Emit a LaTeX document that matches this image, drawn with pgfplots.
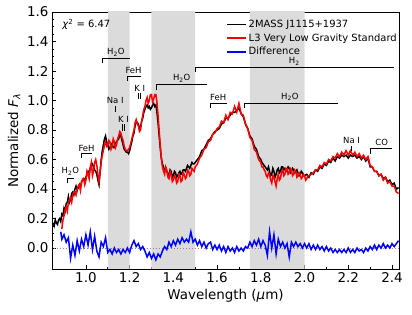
\documentclass[border=0pt]{standalone}
\usepackage{fontspec}
\setmainfont{DejaVu Sans}
\usepackage{pgfplots}
\pgfplotsset{compat=1.18}
\definecolor{shade}{gray}{0.86}
\definecolor{zl}{rgb}{0.62,0.48,0.66}
\newcommand{\annf}{\fontsize{8.5}{10}\selectfont}
\newcommand{\bigf}{\fontsize{13.5}{16}\selectfont}
\begin{document}
\begin{tikzpicture}
\path[use as bounding box] (-52bp,-46bp) rectangle (360bp,269bp);
\begin{axis}[at={(0,0)}, anchor=south west, scale only axis,
  width=347bp, height=257bp,
  xmin=0.845, xmax=2.432, ymin=-0.142, ymax=1.6,
  xtick={1.0,1.2,1.4,1.6,1.8,2.0,2.2,2.4},
  ytick={0,0.2,0.4,0.6,0.8,1.0,1.2,1.4,1.6},
  minor x tick num=1, minor y tick num=3,
  tick align=inside, xtick pos=bottom, ytick pos=left,
  major tick length=4bp, minor tick length=2.3bp,
  tick style={black, line width=0.7bp},
  axis line style={line width=0.8bp},
  tick label style={font=\bigf},
  /pgf/number format/assume math mode=true,
  xticklabel style={/pgf/number format/.cd,fixed,fixed zerofill,precision=1},
  yticklabel style={/pgf/number format/.cd,fixed,fixed zerofill,precision=1},
  label style={font=\bigf},
  xlabel={Wavelength (\textit{μ}m)},
  ylabel={Normalized \textit{F}\textsubscript{\textit{λ}}},
  legend style={draw=none, fill=none, at={(0.503,0.978)}, anchor=north west,
    font=\fontsize{10}{12}\selectfont, inner sep=0pt, row sep=0.8bp,
    nodes={inner sep=1.5bp, text height=8bp, text depth=2bp}},
  legend cell align=left,
  legend image code/.code={\draw[#1] (0bp,0bp) -- (19bp,0bp);},
]
\addplot[draw=none, fill=shade, forget plot] coordinates {(1.1,-1) (1.2,-1) (1.2,2) (1.1,2) (1.1,-1)};
\addplot[draw=none, fill=shade, forget plot] coordinates {(1.3,-1) (1.5,-1) (1.5,2) (1.3,2) (1.3,-1)};
\addplot[draw=none, fill=shade, forget plot] coordinates {(1.75,-1) (2.0,-1) (2.0,2) (1.75,2) (1.75,-1)};
\addplot[zl, dotted, line width=1bp, forget plot] coordinates {(0.8,0) (2.5,0)};
\addplot[black, line width=1.5bp] table {
x y
0.850 0.17
0.855 0.15
0.860 0.19
0.865 0.17
0.870 0.16
0.875 0.19
0.880 0.20
0.885 0.18
0.890 0.23
0.895 0.22
0.900 0.27
0.905 0.25
0.910 0.30
0.915 0.31
0.920 0.35
0.925 0.31
0.930 0.33
0.935 0.37
0.940 0.38
0.945 0.36
0.950 0.40
0.955 0.42
0.960 0.39
0.965 0.41
0.970 0.43
0.975 0.41
0.980 0.45
0.985 0.46
0.990 0.47
0.995 0.45
1.000 0.48
1.005 0.50
1.010 0.52
1.015 0.51
1.020 0.54
1.025 0.56
1.030 0.57
1.035 0.55
1.040 0.53
1.045 0.52
1.050 0.50
1.055 0.46
1.060 0.43
1.065 0.52
1.070 0.60
1.075 0.66
1.080 0.70
1.085 0.74
1.090 0.76
1.095 0.72
1.100 0.70
1.105 0.67
1.110 0.68
1.115 0.70
1.120 0.71
1.125 0.68
1.130 0.68
1.135 0.71
1.140 0.72
1.145 0.73
1.150 0.74
1.155 0.77
1.160 0.76
1.165 0.73
1.170 0.70
1.175 0.67
1.180 0.66
1.185 0.65
1.190 0.65
1.195 0.64
1.200 0.66
1.205 0.69
1.210 0.72
1.215 0.76
1.220 0.78
1.225 0.83
1.230 0.86
1.235 0.85
1.240 0.84
1.245 0.81
1.250 0.82
1.255 0.86
1.260 0.88
1.265 0.92
1.270 0.94
1.275 0.96
1.280 0.97
1.285 0.95
1.290 0.96
1.295 0.94
1.300 0.95
1.305 0.97
1.310 0.98
1.315 0.96
1.320 0.97
1.325 0.92
1.330 0.85
1.335 0.76
1.340 0.68
1.345 0.61
1.350 0.57
1.355 0.55
1.360 0.53
1.365 0.54
1.370 0.52
1.375 0.50
1.380 0.50
1.385 0.53
1.390 0.52
1.395 0.48
1.400 0.49
1.405 0.52
1.410 0.51
1.415 0.48
1.420 0.49
1.425 0.51
1.430 0.52
1.435 0.50
1.440 0.51
1.445 0.53
1.450 0.53
1.455 0.52
1.460 0.54
1.465 0.56
1.470 0.55
1.475 0.54
1.480 0.56
1.485 0.58
1.490 0.57
1.495 0.57
1.500 0.58
1.51 0.60
1.52 0.62
1.53 0.66
1.54 0.67
1.55 0.70
1.56 0.73
1.57 0.74
1.58 0.77
1.59 0.79
1.60 0.80
1.61 0.81
1.62 0.84
1.63 0.85
1.64 0.88
1.65 0.88
1.66 0.90
1.67 0.92
1.68 0.92
1.69 0.93
1.70 0.95
1.71 0.91
1.72 0.89
1.73 0.84
1.74 0.81
1.75 0.76
1.76 0.74
1.77 0.69
1.78 0.67
1.79 0.62
1.800 0.60
1.805 0.58
1.810 0.57
1.815 0.56
1.820 0.55
1.825 0.54
1.830 0.53
1.835 0.55
1.840 0.52
1.845 0.49
1.850 0.50
1.855 0.54
1.860 0.52
1.865 0.48
1.870 0.50
1.875 0.53
1.880 0.54
1.885 0.51
1.890 0.52
1.895 0.55
1.900 0.55
1.905 0.53
1.910 0.54
1.915 0.52
1.920 0.53
1.925 0.55
1.930 0.54
1.935 0.51
1.940 0.52
1.945 0.54
1.950 0.53
1.955 0.51
1.960 0.52
1.965 0.53
1.970 0.51
1.975 0.49
1.980 0.50
1.985 0.52
1.990 0.51
1.995 0.49
2.000 0.49
2.01 0.50
2.02 0.48
2.03 0.51
2.04 0.50
2.05 0.53
2.06 0.52
2.07 0.55
2.08 0.54
2.09 0.57
2.10 0.56
2.11 0.59
2.12 0.58
2.13 0.61
2.14 0.59
2.15 0.62
2.16 0.61
2.17 0.63
2.18 0.62
2.19 0.63
2.20 0.61
2.21 0.63
2.22 0.62
2.23 0.63
2.24 0.61
2.25 0.62
2.26 0.60
2.27 0.62
2.28 0.59
2.29 0.61
2.30 0.55
2.31 0.55
2.32 0.52
2.33 0.52
2.34 0.49
2.35 0.50
2.36 0.47
2.37 0.48
2.38 0.45
2.39 0.46
2.40 0.43
2.41 0.44
2.42 0.40
2.43 0.41
};
\addlegendentry{2MASS J1115+1937}
\addplot[red, line width=1.5bp] table {
x y
0.890 0.13
0.895 0.19
0.900 0.22
0.905 0.26
0.910 0.28
0.915 0.25
0.920 0.31
0.925 0.33
0.930 0.34
0.935 0.31
0.940 0.36
0.945 0.38
0.950 0.38
0.955 0.36
0.960 0.40
0.965 0.42
0.970 0.43
0.975 0.39
0.980 0.44
0.985 0.47
0.990 0.47
0.995 0.43
1.000 0.46
1.005 0.52
1.010 0.50
1.015 0.47
1.020 0.55
1.025 0.58
1.030 0.49
1.035 0.52
1.040 0.58
1.045 0.60
1.050 0.56
1.055 0.50
1.060 0.45
1.065 0.51
1.070 0.58
1.075 0.63
1.080 0.66
1.085 0.70
1.090 0.72
1.095 0.69
1.100 0.70
1.105 0.73
1.110 0.72
1.115 0.67
1.120 0.69
1.125 0.74
1.130 0.72
1.135 0.68
1.140 0.70
1.145 0.74
1.150 0.76
1.155 0.79
1.160 0.78
1.165 0.75
1.170 0.73
1.175 0.69
1.180 0.67
1.185 0.66
1.190 0.66
1.195 0.67
1.200 0.68
1.205 0.71
1.210 0.74
1.215 0.77
1.220 0.80
1.225 0.85
1.230 0.87
1.235 0.84
1.240 0.83
1.245 0.79
1.250 0.80
1.255 0.86
1.260 0.90
1.265 0.94
1.270 0.96
1.275 1.00
1.280 1.02
1.285 0.98
1.290 1.00
1.295 1.04
1.300 1.04
1.305 0.99
1.310 1.01
1.315 1.04
1.320 1.04
1.325 0.99
1.330 0.90
1.335 0.80
1.340 0.70
1.345 0.61
1.350 0.55
1.355 0.52
1.360 0.50
1.365 0.55
1.370 0.53
1.375 0.48
1.380 0.47
1.385 0.52
1.390 0.50
1.395 0.45
1.400 0.46
1.405 0.49
1.410 0.48
1.415 0.44
1.420 0.45
1.425 0.50
1.430 0.49
1.435 0.45
1.440 0.46
1.445 0.51
1.450 0.50
1.455 0.47
1.460 0.48
1.465 0.53
1.470 0.52
1.475 0.49
1.480 0.50
1.485 0.54
1.490 0.53
1.495 0.52
1.500 0.55
1.51 0.57
1.52 0.61
1.53 0.63
1.54 0.67
1.55 0.68
1.56 0.72
1.57 0.73
1.58 0.77
1.59 0.78
1.60 0.81
1.61 0.82
1.62 0.86
1.63 0.85
1.64 0.90
1.65 0.87
1.66 0.92
1.67 0.91
1.68 0.96
1.69 0.92
1.70 0.98
1.71 0.91
1.72 0.90
1.73 0.84
1.74 0.81
1.75 0.75
1.76 0.73
1.77 0.67
1.78 0.65
1.79 0.60
1.800 0.58
1.805 0.55
1.810 0.55
1.815 0.53
1.820 0.52
1.825 0.49
1.830 0.48
1.835 0.51
1.840 0.50
1.845 0.46
1.850 0.44
1.855 0.49
1.860 0.48
1.865 0.45
1.870 0.42
1.875 0.47
1.880 0.50
1.885 0.46
1.890 0.47
1.895 0.52
1.900 0.53
1.905 0.49
1.910 0.50
1.915 0.54
1.920 0.54
1.925 0.50
1.930 0.51
1.935 0.54
1.940 0.53
1.945 0.49
1.950 0.50
1.955 0.53
1.960 0.52
1.965 0.48
1.970 0.49
1.975 0.51
1.980 0.50
1.985 0.47
1.990 0.48
1.995 0.50
2.000 0.49
2.005 0.46
2.010 0.47
2.015 0.49
2.020 0.49
2.03 0.50
2.04 0.51
2.05 0.53
2.06 0.53
2.07 0.56
2.08 0.55
2.09 0.58
2.10 0.57
2.11 0.60
2.12 0.59
2.13 0.62
2.14 0.61
2.15 0.64
2.16 0.62
2.17 0.65
2.18 0.63
2.19 0.66
2.20 0.63
2.21 0.66
2.22 0.63
2.23 0.65
2.24 0.62
2.25 0.64
2.26 0.61
2.27 0.63
2.28 0.60
2.29 0.62
2.30 0.56
2.31 0.55
2.32 0.52
2.33 0.52
2.34 0.49
2.35 0.50
2.36 0.46
2.37 0.48
2.38 0.44
2.39 0.45
2.40 0.42
2.41 0.42
2.42 0.38
2.43 0.37
};
\addlegendentry{L3 Very Low Gravity Standard}
\addplot[blue, line width=1.5bp] table {
x y
0.885 0.11
0.89 0.06
0.90 0.09
0.91 0.04
0.92 0.07
0.93 -0.07
0.94 0.02
0.95 -0.05
0.96 0.05
0.97 -0.02
0.98 0.06
0.99 0.01
1.00 0.09
1.01 0.02
1.02 0.11
1.03 -0.01
1.04 0.08
1.05 -0.02
1.06 -0.06
1.07 0.04
1.08 0.01
1.09 0.07
1.10 -0.03
1.11 -0.01
1.12 -0.04
1.13 0.00
1.14 -0.03
1.15 -0.01
1.16 -0.04
1.17 -0.01
1.18 -0.03
1.19 0.00
1.20 -0.03
1.21 0.02
1.22 0.05
1.23 0.01
1.24 0.03
1.25 -0.01
1.26 0.01
1.27 -0.02
1.28 -0.06
1.29 -0.03
1.30 -0.07
1.31 -0.04
1.32 -0.08
1.33 -0.04
1.34 -0.06
1.35 -0.02
1.36 0.01
1.37 -0.01
1.38 0.04
1.39 0.01
1.40 0.05
1.41 0.02
1.42 0.06
1.43 0.03
1.44 0.07
1.45 0.04
1.46 0.06
1.47 0.04
1.48 0.11
1.49 0.04
1.50 0.06
1.51 0.02
1.52 0.05
1.53 0.01
1.54 0.04
1.55 0.00
1.56 0.03
1.57 0.04
1.58 -0.01
1.59 0.02
1.60 -0.01
1.61 0.02
1.62 -0.02
1.63 0.01
1.64 -0.03
1.65 0.01
1.66 -0.02
1.67 0.00
1.68 -0.03
1.69 0.01
1.70 -0.02
1.71 0.00
1.72 -0.02
1.73 0.01
1.74 0.00
1.75 0.04
1.76 0.01
1.77 0.05
1.78 0.02
1.79 0.06
1.80 0.01
1.81 0.05
1.82 0.02
1.83 -0.05
1.84 0.11
1.85 0.00
1.86 0.09
1.87 -0.04
1.88 0.06
1.89 0.01
1.90 0.04
1.91 0.00
1.92 0.03
1.93 -0.06
1.94 0.04
1.95 0.01
1.96 0.04
1.97 0.01
1.98 0.03
1.99 0.00
2.00 0.03
2.01 0.00
2.02 0.03
2.03 -0.01
2.04 0.02
2.05 -0.01
2.06 0.02
2.07 -0.01
2.08 0.01
2.09 -0.02
2.10 0.01
2.11 -0.02
2.12 0.00
2.13 -0.03
2.14 -0.01
2.15 -0.03
2.16 -0.01
2.17 -0.03
2.18 -0.01
2.19 -0.03
2.20 0.00
2.21 -0.03
2.22 -0.01
2.23 -0.03
2.24 0.00
2.25 -0.02
2.26 -0.01
2.27 -0.03
2.28 0.00
2.29 -0.02
2.30 0.01
2.31 -0.01
2.32 0.02
2.33 -0.01
2.34 0.02
2.35 0.00
2.36 0.03
2.37 0.00
2.38 0.02
2.39 0.00
2.40 0.03
2.41 0.01
2.42 0.03
2.43 0.05
};
\addlegendentry{Difference}
% annotations
\begin{scope}[line width=0.9bp]
\draw (0.917,0.44) -- (0.917,0.47) -- (0.944,0.47);
\node[font=\annf] at (0.929,0.52) {H\textsubscript{2}O};
\draw (0.979,0.61) -- (0.979,0.64) -- (1.027,0.64);
\node[font=\annf] at (1.003,0.675) {FeH};
\draw (1.078,1.255) -- (1.078,1.288) -- (1.200,1.288);
\node[font=\annf] at (1.137,1.328) {H\textsubscript{2}O};
\draw (1.188,1.13) -- (1.188,1.166) -- (1.253,1.166);
\node[font=\annf] at (1.218,1.204) {FeH};
\draw (1.134,0.961) -- (1.134,0.922);
\node[font=\annf] at (1.134,0.997) {Na I};
\draw (1.167,0.839) -- (1.167,0.794);
\draw (1.175,0.839) -- (1.175,0.794);
\node[font=\annf] at (1.172,0.873) {K I};
\draw (1.242,1.051) -- (1.242,1.008);
\draw (1.250,1.051) -- (1.250,1.008);
\node[font=\annf] at (1.246,1.08) {K I};
\draw (1.323,1.07) -- (1.323,1.107) -- (1.556,1.107);
\node[font=\annf] at (1.438,1.148) {H\textsubscript{2}O};
\draw (1.50,1.19) -- (1.50,1.227) -- (2.41,1.227);
\node[font=\annf] at (1.953,1.265) {H\textsubscript{2}};
\draw (1.571,0.95) -- (1.571,0.983) -- (1.645,0.983);
\node[font=\annf] at (1.605,1.024) {FeH};
\draw (1.723,0.947) -- (1.723,0.983) -- (2.151,0.983);
\node[font=\annf] at (1.933,1.024) {H\textsubscript{2}O};
\draw (2.215,0.69) -- (2.215,0.66);
\node[font=\annf] at (2.215,0.73) {Na I};
\draw (2.30,0.636) -- (2.30,0.677) -- (2.40,0.677);
\node[font=\annf] at (2.353,0.715) {CO};
\end{scope}
\node[font=\fontsize{10}{12}\selectfont, anchor=west] at (0.876,1.515) {\textit{χ}\textsuperscript{2} = 6.47};
\end{axis}
\end{tikzpicture}
\end{document}
